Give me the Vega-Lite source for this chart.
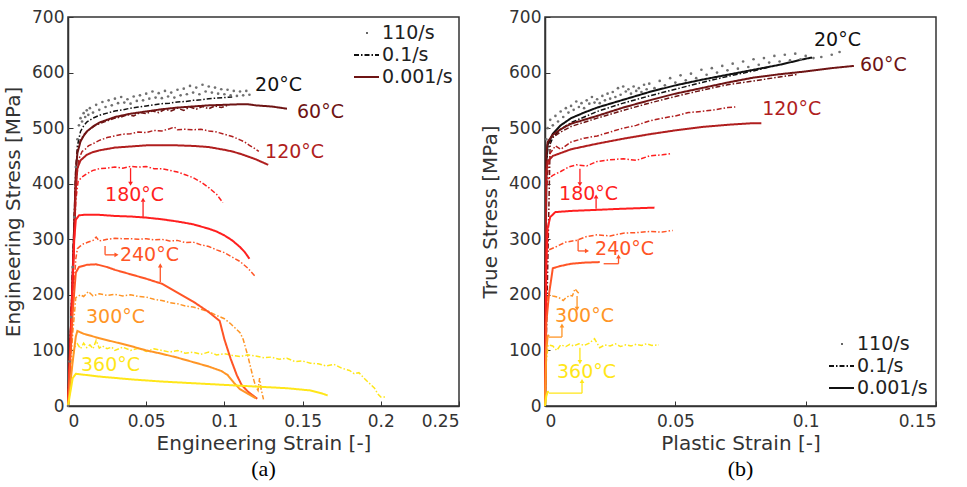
{
"$schema": "https://vega.github.io/schema/vega-lite/v6.json",
"background": "white",
"padding": {"left": 2, "top": 7, "right": 5, "bottom": 3},
"spacing": 18,
"config": {
  "font": "DejaVu Sans",
  "view": {"stroke": "#333", "strokeWidth": 1.5},
  "axis": {"labelFont": "DejaVu Sans", "labelFontSize": 17, "labelColor": "#333", "titleFont": "DejaVu Sans", "titleFontSize": 20, "titleFontWeight": "normal", "titleColor": "#333", "domainColor": "#333", "domainWidth": 1.5, "tickColor": "#333", "tickSize": -5, "labelPadding": 9, "grid": false},
  "text": {"font": "DejaVu Sans", "fontSize": 19, "align": "left", "baseline": "middle"}
},
"datasets": {
"curves": [
{"panel":"a","temp":"20°C","rate":"110/s","strain":0,"stress":0},{"panel":"a","temp":"20°C","rate":"110/s","strain":0.001,"stress":80},{"panel":"a","temp":"20°C","rate":"110/s","strain":0.002,"stress":160},{"panel":"a","temp":"20°C","rate":"110/s","strain":0.003,"stress":250},{"panel":"a","temp":"20°C","rate":"110/s","strain":0.004,"stress":340},{"panel":"a","temp":"20°C","rate":"110/s","strain":0.005,"stress":430},{"panel":"a","temp":"20°C","rate":"110/s","strain":0.006,"stress":480},{"panel":"a","temp":"20°C","rate":"110/s","strain":0.007,"stress":505},{"panel":"a","temp":"20°C","rate":"110/s","strain":0.008,"stress":518},{"panel":"a","temp":"20°C","rate":"110/s","strain":0.009,"stress":512},{"panel":"a","temp":"20°C","rate":"110/s","strain":0.010,"stress":527},{"panel":"a","temp":"20°C","rate":"110/s","strain":0.011,"stress":520},{"panel":"a","temp":"20°C","rate":"110/s","strain":0.012,"stress":532},{"panel":"a","temp":"20°C","rate":"110/s","strain":0.013,"stress":524},{"panel":"a","temp":"20°C","rate":"110/s","strain":0.014,"stress":536},{"panel":"a","temp":"20°C","rate":"110/s","strain":0.016,"stress":528},{"panel":"a","temp":"20°C","rate":"110/s","strain":0.018,"stress":542},{"panel":"a","temp":"20°C","rate":"110/s","strain":0.020,"stress":533},{"panel":"a","temp":"20°C","rate":"110/s","strain":0.022,"stress":547},{"panel":"a","temp":"20°C","rate":"110/s","strain":0.024,"stress":538},{"panel":"a","temp":"20°C","rate":"110/s","strain":0.026,"stress":550},{"panel":"a","temp":"20°C","rate":"110/s","strain":0.028,"stress":541},{"panel":"a","temp":"20°C","rate":"110/s","strain":0.030,"stress":553},{"panel":"a","temp":"20°C","rate":"110/s","strain":0.032,"stress":545},{"panel":"a","temp":"20°C","rate":"110/s","strain":0.034,"stress":556},{"panel":"a","temp":"20°C","rate":"110/s","strain":0.036,"stress":546},{"panel":"a","temp":"20°C","rate":"110/s","strain":0.038,"stress":552},{"panel":"a","temp":"20°C","rate":"110/s","strain":0.040,"stress":544},{"panel":"a","temp":"20°C","rate":"110/s","strain":0.042,"stress":557},{"panel":"a","temp":"20°C","rate":"110/s","strain":0.044,"stress":549},{"panel":"a","temp":"20°C","rate":"110/s","strain":0.046,"stress":559},{"panel":"a","temp":"20°C","rate":"110/s","strain":0.048,"stress":550},{"panel":"a","temp":"20°C","rate":"110/s","strain":0.050,"stress":562},{"panel":"a","temp":"20°C","rate":"110/s","strain":0.052,"stress":553},{"panel":"a","temp":"20°C","rate":"110/s","strain":0.054,"stress":566},{"panel":"a","temp":"20°C","rate":"110/s","strain":0.056,"stress":555},{"panel":"a","temp":"20°C","rate":"110/s","strain":0.058,"stress":563},{"panel":"a","temp":"20°C","rate":"110/s","strain":0.060,"stress":554},{"panel":"a","temp":"20°C","rate":"110/s","strain":0.062,"stress":567},{"panel":"a","temp":"20°C","rate":"110/s","strain":0.064,"stress":557},{"panel":"a","temp":"20°C","rate":"110/s","strain":0.066,"stress":564},{"panel":"a","temp":"20°C","rate":"110/s","strain":0.068,"stress":555},{"panel":"a","temp":"20°C","rate":"110/s","strain":0.070,"stress":569},{"panel":"a","temp":"20°C","rate":"110/s","strain":0.072,"stress":559},{"panel":"a","temp":"20°C","rate":"110/s","strain":0.074,"stress":571},{"panel":"a","temp":"20°C","rate":"110/s","strain":0.076,"stress":561},{"panel":"a","temp":"20°C","rate":"110/s","strain":0.078,"stress":576},{"panel":"a","temp":"20°C","rate":"110/s","strain":0.080,"stress":564},{"panel":"a","temp":"20°C","rate":"110/s","strain":0.082,"stress":573},{"panel":"a","temp":"20°C","rate":"110/s","strain":0.084,"stress":561},{"panel":"a","temp":"20°C","rate":"110/s","strain":0.086,"stress":578},{"panel":"a","temp":"20°C","rate":"110/s","strain":0.088,"stress":566},{"panel":"a","temp":"20°C","rate":"110/s","strain":0.090,"stress":575},{"panel":"a","temp":"20°C","rate":"110/s","strain":0.092,"stress":564},{"panel":"a","temp":"20°C","rate":"110/s","strain":0.094,"stress":573},{"panel":"a","temp":"20°C","rate":"110/s","strain":0.096,"stress":562},{"panel":"a","temp":"20°C","rate":"110/s","strain":0.098,"stress":570},{"panel":"a","temp":"20°C","rate":"110/s","strain":0.100,"stress":561},{"panel":"a","temp":"20°C","rate":"110/s","strain":0.102,"stress":569},{"panel":"a","temp":"20°C","rate":"110/s","strain":0.104,"stress":559},{"panel":"a","temp":"20°C","rate":"110/s","strain":0.106,"stress":567},{"panel":"a","temp":"20°C","rate":"110/s","strain":0.108,"stress":558},{"panel":"a","temp":"20°C","rate":"110/s","strain":0.110,"stress":566},{"panel":"a","temp":"20°C","rate":"110/s","strain":0.112,"stress":559},{"panel":"a","temp":"20°C","rate":"110/s","strain":0.114,"stress":567},{"panel":"a","temp":"20°C","rate":"110/s","strain":0.116,"stress":560},
{"panel":"a","temp":"20°C","rate":"0.1/s","strain":0,"stress":0},{"panel":"a","temp":"20°C","rate":"0.1/s","strain":0.002,"stress":160},{"panel":"a","temp":"20°C","rate":"0.1/s","strain":0.004,"stress":330},{"panel":"a","temp":"20°C","rate":"0.1/s","strain":0.005,"stress":420},{"panel":"a","temp":"20°C","rate":"0.1/s","strain":0.006,"stress":468},{"panel":"a","temp":"20°C","rate":"0.1/s","strain":0.008,"stress":494},{"panel":"a","temp":"20°C","rate":"0.1/s","strain":0.010,"stress":504},{"panel":"a","temp":"20°C","rate":"0.1/s","strain":0.012,"stress":511},{"panel":"a","temp":"20°C","rate":"0.1/s","strain":0.016,"stress":518},{"panel":"a","temp":"20°C","rate":"0.1/s","strain":0.020,"stress":523},{"panel":"a","temp":"20°C","rate":"0.1/s","strain":0.025,"stress":527},{"panel":"a","temp":"20°C","rate":"0.1/s","strain":0.030,"stress":531},{"panel":"a","temp":"20°C","rate":"0.1/s","strain":0.035,"stress":533},{"panel":"a","temp":"20°C","rate":"0.1/s","strain":0.040,"stress":536},{"panel":"a","temp":"20°C","rate":"0.1/s","strain":0.045,"stress":538},{"panel":"a","temp":"20°C","rate":"0.1/s","strain":0.050,"stress":540},{"panel":"a","temp":"20°C","rate":"0.1/s","strain":0.055,"stress":542},{"panel":"a","temp":"20°C","rate":"0.1/s","strain":0.060,"stress":544},{"panel":"a","temp":"20°C","rate":"0.1/s","strain":0.065,"stress":545},{"panel":"a","temp":"20°C","rate":"0.1/s","strain":0.070,"stress":547},{"panel":"a","temp":"20°C","rate":"0.1/s","strain":0.075,"stress":548},{"panel":"a","temp":"20°C","rate":"0.1/s","strain":0.080,"stress":550},{"panel":"a","temp":"20°C","rate":"0.1/s","strain":0.085,"stress":551},{"panel":"a","temp":"20°C","rate":"0.1/s","strain":0.090,"stress":553},{"panel":"a","temp":"20°C","rate":"0.1/s","strain":0.095,"stress":554},{"panel":"a","temp":"20°C","rate":"0.1/s","strain":0.100,"stress":555},{"panel":"a","temp":"20°C","rate":"0.1/s","strain":0.105,"stress":556},
{"panel":"a","temp":"60°C","rate":"0.001/s","strain":0,"stress":0},{"panel":"a","temp":"60°C","rate":"0.001/s","strain":0.002,"stress":150},{"panel":"a","temp":"60°C","rate":"0.001/s","strain":0.004,"stress":330},{"panel":"a","temp":"60°C","rate":"0.001/s","strain":0.005,"stress":420},{"panel":"a","temp":"60°C","rate":"0.001/s","strain":0.006,"stress":455},{"panel":"a","temp":"60°C","rate":"0.001/s","strain":0.008,"stress":476},{"panel":"a","temp":"60°C","rate":"0.001/s","strain":0.010,"stress":486},{"panel":"a","temp":"60°C","rate":"0.001/s","strain":0.012,"stress":494},{"panel":"a","temp":"60°C","rate":"0.001/s","strain":0.016,"stress":503},{"panel":"a","temp":"60°C","rate":"0.001/s","strain":0.020,"stress":510},{"panel":"a","temp":"60°C","rate":"0.001/s","strain":0.025,"stress":515},{"panel":"a","temp":"60°C","rate":"0.001/s","strain":0.030,"stress":520},{"panel":"a","temp":"60°C","rate":"0.001/s","strain":0.035,"stress":523},{"panel":"a","temp":"60°C","rate":"0.001/s","strain":0.040,"stress":526},{"panel":"a","temp":"60°C","rate":"0.001/s","strain":0.050,"stress":530},{"panel":"a","temp":"60°C","rate":"0.001/s","strain":0.060,"stress":534},{"panel":"a","temp":"60°C","rate":"0.001/s","strain":0.070,"stress":537},{"panel":"a","temp":"60°C","rate":"0.001/s","strain":0.080,"stress":539},{"panel":"a","temp":"60°C","rate":"0.001/s","strain":0.090,"stress":541},{"panel":"a","temp":"60°C","rate":"0.001/s","strain":0.100,"stress":542},{"panel":"a","temp":"60°C","rate":"0.001/s","strain":0.110,"stress":543},{"panel":"a","temp":"60°C","rate":"0.001/s","strain":0.115,"stress":543},{"panel":"a","temp":"60°C","rate":"0.001/s","strain":0.120,"stress":541},{"panel":"a","temp":"60°C","rate":"0.001/s","strain":0.125,"stress":540},{"panel":"a","temp":"60°C","rate":"0.001/s","strain":0.130,"stress":539},{"panel":"a","temp":"60°C","rate":"0.001/s","strain":0.135,"stress":537},{"panel":"a","temp":"60°C","rate":"0.001/s","strain":0.140,"stress":535},
{"panel":"a","temp":"60°C","rate":"0.1/s","strain":0,"stress":0},{"panel":"a","temp":"60°C","rate":"0.1/s","strain":0.002,"stress":160},{"panel":"a","temp":"60°C","rate":"0.1/s","strain":0.004,"stress":340},{"panel":"a","temp":"60°C","rate":"0.1/s","strain":0.005,"stress":430},{"panel":"a","temp":"60°C","rate":"0.1/s","strain":0.006,"stress":460},{"panel":"a","temp":"60°C","rate":"0.1/s","strain":0.008,"stress":478},{"panel":"a","temp":"60°C","rate":"0.1/s","strain":0.010,"stress":488},{"panel":"a","temp":"60°C","rate":"0.1/s","strain":0.014,"stress":498},{"panel":"a","temp":"60°C","rate":"0.1/s","strain":0.018,"stress":506},{"panel":"a","temp":"60°C","rate":"0.1/s","strain":0.022,"stress":510},{"panel":"a","temp":"60°C","rate":"0.1/s","strain":0.026,"stress":514},{"panel":"a","temp":"60°C","rate":"0.1/s","strain":0.030,"stress":518},{"panel":"a","temp":"60°C","rate":"0.1/s","strain":0.034,"stress":520},{"panel":"a","temp":"60°C","rate":"0.1/s","strain":0.038,"stress":524},{"panel":"a","temp":"60°C","rate":"0.1/s","strain":0.042,"stress":522},{"panel":"a","temp":"60°C","rate":"0.1/s","strain":0.046,"stress":528},{"panel":"a","temp":"60°C","rate":"0.1/s","strain":0.050,"stress":526},{"panel":"a","temp":"60°C","rate":"0.1/s","strain":0.054,"stress":531},{"panel":"a","temp":"60°C","rate":"0.1/s","strain":0.058,"stress":528},{"panel":"a","temp":"60°C","rate":"0.1/s","strain":0.062,"stress":534},{"panel":"a","temp":"60°C","rate":"0.1/s","strain":0.066,"stress":531},{"panel":"a","temp":"60°C","rate":"0.1/s","strain":0.070,"stress":536},{"panel":"a","temp":"60°C","rate":"0.1/s","strain":0.074,"stress":532},{"panel":"a","temp":"60°C","rate":"0.1/s","strain":0.078,"stress":538},{"panel":"a","temp":"60°C","rate":"0.1/s","strain":0.082,"stress":534},{"panel":"a","temp":"60°C","rate":"0.1/s","strain":0.086,"stress":539},{"panel":"a","temp":"60°C","rate":"0.1/s","strain":0.090,"stress":535},{"panel":"a","temp":"60°C","rate":"0.1/s","strain":0.094,"stress":540},{"panel":"a","temp":"60°C","rate":"0.1/s","strain":0.098,"stress":537},{"panel":"a","temp":"60°C","rate":"0.1/s","strain":0.102,"stress":541},
{"panel":"a","temp":"120°C","rate":"0.1/s","strain":0,"stress":0},{"panel":"a","temp":"120°C","rate":"0.1/s","strain":0.002,"stress":150},{"panel":"a","temp":"120°C","rate":"0.1/s","strain":0.004,"stress":320},{"panel":"a","temp":"120°C","rate":"0.1/s","strain":0.005,"stress":400},{"panel":"a","temp":"120°C","rate":"0.1/s","strain":0.007,"stress":445},{"panel":"a","temp":"120°C","rate":"0.1/s","strain":0.009,"stress":458},{"panel":"a","temp":"120°C","rate":"0.1/s","strain":0.011,"stress":462},{"panel":"a","temp":"120°C","rate":"0.1/s","strain":0.013,"stress":468},{"panel":"a","temp":"120°C","rate":"0.1/s","strain":0.016,"stress":472},{"panel":"a","temp":"120°C","rate":"0.1/s","strain":0.020,"stress":478},{"panel":"a","temp":"120°C","rate":"0.1/s","strain":0.025,"stress":483},{"panel":"a","temp":"120°C","rate":"0.1/s","strain":0.030,"stress":486},{"panel":"a","temp":"120°C","rate":"0.1/s","strain":0.035,"stress":489},{"panel":"a","temp":"120°C","rate":"0.1/s","strain":0.040,"stress":490},{"panel":"a","temp":"120°C","rate":"0.1/s","strain":0.045,"stress":493},{"panel":"a","temp":"120°C","rate":"0.1/s","strain":0.050,"stress":492},{"panel":"a","temp":"120°C","rate":"0.1/s","strain":0.055,"stress":496},{"panel":"a","temp":"120°C","rate":"0.1/s","strain":0.060,"stress":495},{"panel":"a","temp":"120°C","rate":"0.1/s","strain":0.065,"stress":499},{"panel":"a","temp":"120°C","rate":"0.1/s","strain":0.068,"stress":502},{"panel":"a","temp":"120°C","rate":"0.1/s","strain":0.070,"stress":497},{"panel":"a","temp":"120°C","rate":"0.1/s","strain":0.075,"stress":498},{"panel":"a","temp":"120°C","rate":"0.1/s","strain":0.080,"stress":497},{"panel":"a","temp":"120°C","rate":"0.1/s","strain":0.085,"stress":498},{"panel":"a","temp":"120°C","rate":"0.1/s","strain":0.090,"stress":495},{"panel":"a","temp":"120°C","rate":"0.1/s","strain":0.095,"stress":493},{"panel":"a","temp":"120°C","rate":"0.1/s","strain":0.100,"stress":489},{"panel":"a","temp":"120°C","rate":"0.1/s","strain":0.105,"stress":485},{"panel":"a","temp":"120°C","rate":"0.1/s","strain":0.110,"stress":479},{"panel":"a","temp":"120°C","rate":"0.1/s","strain":0.113,"stress":475},{"panel":"a","temp":"120°C","rate":"0.1/s","strain":0.116,"stress":469},{"panel":"a","temp":"120°C","rate":"0.1/s","strain":0.119,"stress":464},{"panel":"a","temp":"120°C","rate":"0.1/s","strain":0.122,"stress":458},
{"panel":"a","temp":"120°C","rate":"0.001/s","strain":0,"stress":0},{"panel":"a","temp":"120°C","rate":"0.001/s","strain":0.002,"stress":150},{"panel":"a","temp":"120°C","rate":"0.001/s","strain":0.004,"stress":310},{"panel":"a","temp":"120°C","rate":"0.001/s","strain":0.005,"stress":390},{"panel":"a","temp":"120°C","rate":"0.001/s","strain":0.006,"stress":428},{"panel":"a","temp":"120°C","rate":"0.001/s","strain":0.008,"stress":442},{"panel":"a","temp":"120°C","rate":"0.001/s","strain":0.012,"stress":452},{"panel":"a","temp":"120°C","rate":"0.001/s","strain":0.016,"stress":457},{"panel":"a","temp":"120°C","rate":"0.001/s","strain":0.020,"stress":460},{"panel":"a","temp":"120°C","rate":"0.001/s","strain":0.030,"stress":465},{"panel":"a","temp":"120°C","rate":"0.001/s","strain":0.040,"stress":467},{"panel":"a","temp":"120°C","rate":"0.001/s","strain":0.050,"stress":469},{"panel":"a","temp":"120°C","rate":"0.001/s","strain":0.060,"stress":469},{"panel":"a","temp":"120°C","rate":"0.001/s","strain":0.070,"stress":469},{"panel":"a","temp":"120°C","rate":"0.001/s","strain":0.080,"stress":468},{"panel":"a","temp":"120°C","rate":"0.001/s","strain":0.090,"stress":466},{"panel":"a","temp":"120°C","rate":"0.001/s","strain":0.100,"stress":461},{"panel":"a","temp":"120°C","rate":"0.001/s","strain":0.105,"stress":458},{"panel":"a","temp":"120°C","rate":"0.001/s","strain":0.110,"stress":454},{"panel":"a","temp":"120°C","rate":"0.001/s","strain":0.115,"stress":449},{"panel":"a","temp":"120°C","rate":"0.001/s","strain":0.120,"stress":444},{"panel":"a","temp":"120°C","rate":"0.001/s","strain":0.124,"stress":439},{"panel":"a","temp":"120°C","rate":"0.001/s","strain":0.128,"stress":434},
{"panel":"a","temp":"180°C","rate":"0.1/s","strain":0,"stress":0},{"panel":"a","temp":"180°C","rate":"0.1/s","strain":0.002,"stress":150},{"panel":"a","temp":"180°C","rate":"0.1/s","strain":0.004,"stress":300},{"panel":"a","temp":"180°C","rate":"0.1/s","strain":0.005,"stress":370},{"panel":"a","temp":"180°C","rate":"0.1/s","strain":0.0065,"stress":405},{"panel":"a","temp":"180°C","rate":"0.1/s","strain":0.009,"stress":412},{"panel":"a","temp":"180°C","rate":"0.1/s","strain":0.012,"stress":418},{"panel":"a","temp":"180°C","rate":"0.1/s","strain":0.016,"stress":424},{"panel":"a","temp":"180°C","rate":"0.1/s","strain":0.020,"stress":427},{"panel":"a","temp":"180°C","rate":"0.1/s","strain":0.025,"stress":428},{"panel":"a","temp":"180°C","rate":"0.1/s","strain":0.030,"stress":430},{"panel":"a","temp":"180°C","rate":"0.1/s","strain":0.035,"stress":428},{"panel":"a","temp":"180°C","rate":"0.1/s","strain":0.040,"stress":431},{"panel":"a","temp":"180°C","rate":"0.1/s","strain":0.045,"stress":430},{"panel":"a","temp":"180°C","rate":"0.1/s","strain":0.050,"stress":431},{"panel":"a","temp":"180°C","rate":"0.1/s","strain":0.055,"stress":427},{"panel":"a","temp":"180°C","rate":"0.1/s","strain":0.060,"stress":427},{"panel":"a","temp":"180°C","rate":"0.1/s","strain":0.065,"stress":424},{"panel":"a","temp":"180°C","rate":"0.1/s","strain":0.070,"stress":421},{"panel":"a","temp":"180°C","rate":"0.1/s","strain":0.075,"stress":416},{"panel":"a","temp":"180°C","rate":"0.1/s","strain":0.080,"stress":411},{"panel":"a","temp":"180°C","rate":"0.1/s","strain":0.085,"stress":403},{"panel":"a","temp":"180°C","rate":"0.1/s","strain":0.090,"stress":393},{"panel":"a","temp":"180°C","rate":"0.1/s","strain":0.095,"stress":381},{"panel":"a","temp":"180°C","rate":"0.1/s","strain":0.099,"stress":366},
{"panel":"a","temp":"180°C","rate":"0.001/s","strain":0,"stress":0},{"panel":"a","temp":"180°C","rate":"0.001/s","strain":0.002,"stress":150},{"panel":"a","temp":"180°C","rate":"0.001/s","strain":0.004,"stress":300},{"panel":"a","temp":"180°C","rate":"0.001/s","strain":0.005,"stress":335},{"panel":"a","temp":"180°C","rate":"0.001/s","strain":0.007,"stress":343},{"panel":"a","temp":"180°C","rate":"0.001/s","strain":0.010,"stress":344},{"panel":"a","temp":"180°C","rate":"0.001/s","strain":0.020,"stress":344},{"panel":"a","temp":"180°C","rate":"0.001/s","strain":0.030,"stress":342},{"panel":"a","temp":"180°C","rate":"0.001/s","strain":0.040,"stress":341},{"panel":"a","temp":"180°C","rate":"0.001/s","strain":0.050,"stress":339},{"panel":"a","temp":"180°C","rate":"0.001/s","strain":0.060,"stress":336},{"panel":"a","temp":"180°C","rate":"0.001/s","strain":0.070,"stress":332},{"panel":"a","temp":"180°C","rate":"0.001/s","strain":0.080,"stress":327},{"panel":"a","temp":"180°C","rate":"0.001/s","strain":0.090,"stress":319},{"panel":"a","temp":"180°C","rate":"0.001/s","strain":0.095,"stress":314},{"panel":"a","temp":"180°C","rate":"0.001/s","strain":0.100,"stress":307},{"panel":"a","temp":"180°C","rate":"0.001/s","strain":0.105,"stress":298},{"panel":"a","temp":"180°C","rate":"0.001/s","strain":0.110,"stress":286},{"panel":"a","temp":"180°C","rate":"0.001/s","strain":0.113,"stress":277},{"panel":"a","temp":"180°C","rate":"0.001/s","strain":0.116,"stress":265},
{"panel":"a","temp":"240°C","rate":"0.1/s","strain":0,"stress":0},{"panel":"a","temp":"240°C","rate":"0.1/s","strain":0.002,"stress":120},{"panel":"a","temp":"240°C","rate":"0.1/s","strain":0.004,"stress":220},{"panel":"a","temp":"240°C","rate":"0.1/s","strain":0.005,"stress":265},{"panel":"a","temp":"240°C","rate":"0.1/s","strain":0.006,"stress":283},{"panel":"a","temp":"240°C","rate":"0.1/s","strain":0.008,"stress":288},{"panel":"a","temp":"240°C","rate":"0.1/s","strain":0.010,"stress":292},{"panel":"a","temp":"240°C","rate":"0.1/s","strain":0.013,"stress":295},{"panel":"a","temp":"240°C","rate":"0.1/s","strain":0.016,"stress":298},{"panel":"a","temp":"240°C","rate":"0.1/s","strain":0.018,"stress":304},{"panel":"a","temp":"240°C","rate":"0.1/s","strain":0.020,"stress":297},{"panel":"a","temp":"240°C","rate":"0.1/s","strain":0.025,"stress":300},{"panel":"a","temp":"240°C","rate":"0.1/s","strain":0.030,"stress":302},{"panel":"a","temp":"240°C","rate":"0.1/s","strain":0.035,"stress":301},{"panel":"a","temp":"240°C","rate":"0.1/s","strain":0.040,"stress":301},{"panel":"a","temp":"240°C","rate":"0.1/s","strain":0.045,"stress":300},{"panel":"a","temp":"240°C","rate":"0.1/s","strain":0.050,"stress":301},{"panel":"a","temp":"240°C","rate":"0.1/s","strain":0.055,"stress":299},{"panel":"a","temp":"240°C","rate":"0.1/s","strain":0.060,"stress":300},{"panel":"a","temp":"240°C","rate":"0.1/s","strain":0.065,"stress":297},{"panel":"a","temp":"240°C","rate":"0.1/s","strain":0.070,"stress":298},{"panel":"a","temp":"240°C","rate":"0.1/s","strain":0.075,"stress":294},{"panel":"a","temp":"240°C","rate":"0.1/s","strain":0.080,"stress":295},{"panel":"a","temp":"240°C","rate":"0.1/s","strain":0.085,"stress":290},{"panel":"a","temp":"240°C","rate":"0.1/s","strain":0.090,"stress":287},{"panel":"a","temp":"240°C","rate":"0.1/s","strain":0.095,"stress":281},{"panel":"a","temp":"240°C","rate":"0.1/s","strain":0.100,"stress":276},{"panel":"a","temp":"240°C","rate":"0.1/s","strain":0.105,"stress":268},{"panel":"a","temp":"240°C","rate":"0.1/s","strain":0.110,"stress":260},{"panel":"a","temp":"240°C","rate":"0.1/s","strain":0.115,"stress":248},{"panel":"a","temp":"240°C","rate":"0.1/s","strain":0.120,"stress":232},
{"panel":"a","temp":"240°C","rate":"0.001/s","strain":0,"stress":0},{"panel":"a","temp":"240°C","rate":"0.001/s","strain":0.003,"stress":170},{"panel":"a","temp":"240°C","rate":"0.001/s","strain":0.005,"stress":240},{"panel":"a","temp":"240°C","rate":"0.001/s","strain":0.007,"stress":250},{"panel":"a","temp":"240°C","rate":"0.001/s","strain":0.012,"stress":254},{"panel":"a","temp":"240°C","rate":"0.001/s","strain":0.018,"stress":255},{"panel":"a","temp":"240°C","rate":"0.001/s","strain":0.025,"stress":250},{"panel":"a","temp":"240°C","rate":"0.001/s","strain":0.030,"stress":245},{"panel":"a","temp":"240°C","rate":"0.001/s","strain":0.040,"stress":237},{"panel":"a","temp":"240°C","rate":"0.001/s","strain":0.050,"stress":229},{"panel":"a","temp":"240°C","rate":"0.001/s","strain":0.060,"stress":220},{"panel":"a","temp":"240°C","rate":"0.001/s","strain":0.070,"stress":204},{"panel":"a","temp":"240°C","rate":"0.001/s","strain":0.080,"stress":188},{"panel":"a","temp":"240°C","rate":"0.001/s","strain":0.090,"stress":169},{"panel":"a","temp":"240°C","rate":"0.001/s","strain":0.097,"stress":153},{"panel":"a","temp":"240°C","rate":"0.001/s","strain":0.100,"stress":120},{"panel":"a","temp":"240°C","rate":"0.001/s","strain":0.104,"stress":85},{"panel":"a","temp":"240°C","rate":"0.001/s","strain":0.108,"stress":55},{"panel":"a","temp":"240°C","rate":"0.001/s","strain":0.111,"stress":38},{"panel":"a","temp":"240°C","rate":"0.001/s","strain":0.115,"stress":26},{"panel":"a","temp":"240°C","rate":"0.001/s","strain":0.121,"stress":13},
{"panel":"a","temp":"300°C","rate":"0.1/s","strain":0,"stress":0},{"panel":"a","temp":"300°C","rate":"0.1/s","strain":0.003,"stress":130},{"panel":"a","temp":"300°C","rate":"0.1/s","strain":0.005,"stress":195},{"panel":"a","temp":"300°C","rate":"0.1/s","strain":0.008,"stress":200},{"panel":"a","temp":"300°C","rate":"0.1/s","strain":0.010,"stress":197},{"panel":"a","temp":"300°C","rate":"0.1/s","strain":0.013,"stress":206},{"panel":"a","temp":"300°C","rate":"0.1/s","strain":0.016,"stress":198},{"panel":"a","temp":"300°C","rate":"0.1/s","strain":0.020,"stress":202},{"panel":"a","temp":"300°C","rate":"0.1/s","strain":0.025,"stress":199},{"panel":"a","temp":"300°C","rate":"0.1/s","strain":0.030,"stress":201},{"panel":"a","temp":"300°C","rate":"0.1/s","strain":0.035,"stress":198},{"panel":"a","temp":"300°C","rate":"0.1/s","strain":0.040,"stress":200},{"panel":"a","temp":"300°C","rate":"0.1/s","strain":0.045,"stress":197},{"panel":"a","temp":"300°C","rate":"0.1/s","strain":0.050,"stress":196},{"panel":"a","temp":"300°C","rate":"0.1/s","strain":0.055,"stress":192},{"panel":"a","temp":"300°C","rate":"0.1/s","strain":0.060,"stress":190},{"panel":"a","temp":"300°C","rate":"0.1/s","strain":0.065,"stress":186},{"panel":"a","temp":"300°C","rate":"0.1/s","strain":0.070,"stress":184},{"panel":"a","temp":"300°C","rate":"0.1/s","strain":0.075,"stress":180},{"panel":"a","temp":"300°C","rate":"0.1/s","strain":0.080,"stress":178},{"panel":"a","temp":"300°C","rate":"0.1/s","strain":0.085,"stress":174},{"panel":"a","temp":"300°C","rate":"0.1/s","strain":0.090,"stress":170},{"panel":"a","temp":"300°C","rate":"0.1/s","strain":0.095,"stress":163},{"panel":"a","temp":"300°C","rate":"0.1/s","strain":0.100,"stress":157},{"panel":"a","temp":"300°C","rate":"0.1/s","strain":0.104,"stress":148},{"panel":"a","temp":"300°C","rate":"0.1/s","strain":0.107,"stress":140},{"panel":"a","temp":"300°C","rate":"0.1/s","strain":0.110,"stress":132},{"panel":"a","temp":"300°C","rate":"0.1/s","strain":0.112,"stress":120},{"panel":"a","temp":"300°C","rate":"0.1/s","strain":0.115,"stress":90},{"panel":"a","temp":"300°C","rate":"0.1/s","strain":0.118,"stress":55},{"panel":"a","temp":"300°C","rate":"0.1/s","strain":0.120,"stress":35},{"panel":"a","temp":"300°C","rate":"0.1/s","strain":0.1215,"stress":28},{"panel":"a","temp":"300°C","rate":"0.1/s","strain":0.1225,"stress":50},{"panel":"a","temp":"300°C","rate":"0.1/s","strain":0.1235,"stress":30},{"panel":"a","temp":"300°C","rate":"0.1/s","strain":0.125,"stress":12},
{"panel":"a","temp":"300°C","rate":"0.001/s","strain":0,"stress":0},{"panel":"a","temp":"300°C","rate":"0.001/s","strain":0.003,"stress":80},{"panel":"a","temp":"300°C","rate":"0.001/s","strain":0.005,"stress":125},{"panel":"a","temp":"300°C","rate":"0.001/s","strain":0.006,"stress":135},{"panel":"a","temp":"300°C","rate":"0.001/s","strain":0.010,"stress":130},{"panel":"a","temp":"300°C","rate":"0.001/s","strain":0.020,"stress":122},{"panel":"a","temp":"300°C","rate":"0.001/s","strain":0.030,"stress":115},{"panel":"a","temp":"300°C","rate":"0.001/s","strain":0.040,"stress":108},{"panel":"a","temp":"300°C","rate":"0.001/s","strain":0.050,"stress":100},{"panel":"a","temp":"300°C","rate":"0.001/s","strain":0.060,"stress":94},{"panel":"a","temp":"300°C","rate":"0.001/s","strain":0.070,"stress":87},{"panel":"a","temp":"300°C","rate":"0.001/s","strain":0.080,"stress":79},{"panel":"a","temp":"300°C","rate":"0.001/s","strain":0.090,"stress":71},{"panel":"a","temp":"300°C","rate":"0.001/s","strain":0.098,"stress":63},{"panel":"a","temp":"300°C","rate":"0.001/s","strain":0.102,"stress":56},{"panel":"a","temp":"300°C","rate":"0.001/s","strain":0.106,"stress":42},{"panel":"a","temp":"300°C","rate":"0.001/s","strain":0.110,"stress":30},{"panel":"a","temp":"300°C","rate":"0.001/s","strain":0.115,"stress":22},{"panel":"a","temp":"300°C","rate":"0.001/s","strain":0.120,"stress":14},
{"panel":"a","temp":"360°C","rate":"0.1/s","strain":0,"stress":0},{"panel":"a","temp":"360°C","rate":"0.1/s","strain":0.002,"stress":60},{"panel":"a","temp":"360°C","rate":"0.1/s","strain":0.004,"stress":105},{"panel":"a","temp":"360°C","rate":"0.1/s","strain":0.006,"stress":112},{"panel":"a","temp":"360°C","rate":"0.1/s","strain":0.008,"stress":103},{"panel":"a","temp":"360°C","rate":"0.1/s","strain":0.010,"stress":113},{"panel":"a","temp":"360°C","rate":"0.1/s","strain":0.012,"stress":105},{"panel":"a","temp":"360°C","rate":"0.1/s","strain":0.014,"stress":110},{"panel":"a","temp":"360°C","rate":"0.1/s","strain":0.016,"stress":103},{"panel":"a","temp":"360°C","rate":"0.1/s","strain":0.018,"stress":118},{"panel":"a","temp":"360°C","rate":"0.1/s","strain":0.020,"stress":104},{"panel":"a","temp":"360°C","rate":"0.1/s","strain":0.022,"stress":108},{"panel":"a","temp":"360°C","rate":"0.1/s","strain":0.025,"stress":103},{"panel":"a","temp":"360°C","rate":"0.1/s","strain":0.028,"stress":106},{"panel":"a","temp":"360°C","rate":"0.1/s","strain":0.030,"stress":100},{"panel":"a","temp":"360°C","rate":"0.1/s","strain":0.035,"stress":106},{"panel":"a","temp":"360°C","rate":"0.1/s","strain":0.040,"stress":100},{"panel":"a","temp":"360°C","rate":"0.1/s","strain":0.045,"stress":104},{"panel":"a","temp":"360°C","rate":"0.1/s","strain":0.050,"stress":98},{"panel":"a","temp":"360°C","rate":"0.1/s","strain":0.055,"stress":103},{"panel":"a","temp":"360°C","rate":"0.1/s","strain":0.060,"stress":100},{"panel":"a","temp":"360°C","rate":"0.1/s","strain":0.065,"stress":97},{"panel":"a","temp":"360°C","rate":"0.1/s","strain":0.070,"stress":100},{"panel":"a","temp":"360°C","rate":"0.1/s","strain":0.075,"stress":95},{"panel":"a","temp":"360°C","rate":"0.1/s","strain":0.080,"stress":97},{"panel":"a","temp":"360°C","rate":"0.1/s","strain":0.085,"stress":93},{"panel":"a","temp":"360°C","rate":"0.1/s","strain":0.090,"stress":97},{"panel":"a","temp":"360°C","rate":"0.1/s","strain":0.095,"stress":92},{"panel":"a","temp":"360°C","rate":"0.1/s","strain":0.100,"stress":94},{"panel":"a","temp":"360°C","rate":"0.1/s","strain":0.105,"stress":91},{"panel":"a","temp":"360°C","rate":"0.1/s","strain":0.110,"stress":89},{"panel":"a","temp":"360°C","rate":"0.1/s","strain":0.115,"stress":92},{"panel":"a","temp":"360°C","rate":"0.1/s","strain":0.120,"stress":90},{"panel":"a","temp":"360°C","rate":"0.1/s","strain":0.125,"stress":87},{"panel":"a","temp":"360°C","rate":"0.1/s","strain":0.130,"stress":88},{"panel":"a","temp":"360°C","rate":"0.1/s","strain":0.135,"stress":84},{"panel":"a","temp":"360°C","rate":"0.1/s","strain":0.140,"stress":86},{"panel":"a","temp":"360°C","rate":"0.1/s","strain":0.145,"stress":80},{"panel":"a","temp":"360°C","rate":"0.1/s","strain":0.150,"stress":81},{"panel":"a","temp":"360°C","rate":"0.1/s","strain":0.155,"stress":77},{"panel":"a","temp":"360°C","rate":"0.1/s","strain":0.160,"stress":76},{"panel":"a","temp":"360°C","rate":"0.1/s","strain":0.165,"stress":72},{"panel":"a","temp":"360°C","rate":"0.1/s","strain":0.170,"stress":75},{"panel":"a","temp":"360°C","rate":"0.1/s","strain":0.175,"stress":68},{"panel":"a","temp":"360°C","rate":"0.1/s","strain":0.180,"stress":64},{"panel":"a","temp":"360°C","rate":"0.1/s","strain":0.183,"stress":58},{"panel":"a","temp":"360°C","rate":"0.1/s","strain":0.186,"stress":60},{"panel":"a","temp":"360°C","rate":"0.1/s","strain":0.190,"stress":48},{"panel":"a","temp":"360°C","rate":"0.1/s","strain":0.193,"stress":40},{"panel":"a","temp":"360°C","rate":"0.1/s","strain":0.196,"stress":32},{"panel":"a","temp":"360°C","rate":"0.1/s","strain":0.198,"stress":22},{"panel":"a","temp":"360°C","rate":"0.1/s","strain":0.200,"stress":16},{"panel":"a","temp":"360°C","rate":"0.1/s","strain":0.203,"stress":16},
{"panel":"a","temp":"360°C","rate":"0.001/s","strain":0,"stress":0},{"panel":"a","temp":"360°C","rate":"0.001/s","strain":0.003,"stress":50},{"panel":"a","temp":"360°C","rate":"0.001/s","strain":0.005,"stress":58},{"panel":"a","temp":"360°C","rate":"0.001/s","strain":0.020,"stress":53},{"panel":"a","temp":"360°C","rate":"0.001/s","strain":0.040,"stress":48},{"panel":"a","temp":"360°C","rate":"0.001/s","strain":0.060,"stress":44},{"panel":"a","temp":"360°C","rate":"0.001/s","strain":0.080,"stress":41},{"panel":"a","temp":"360°C","rate":"0.001/s","strain":0.100,"stress":38},{"panel":"a","temp":"360°C","rate":"0.001/s","strain":0.120,"stress":35},{"panel":"a","temp":"360°C","rate":"0.001/s","strain":0.140,"stress":32},{"panel":"a","temp":"360°C","rate":"0.001/s","strain":0.155,"stress":28},{"panel":"a","temp":"360°C","rate":"0.001/s","strain":0.162,"stress":23},{"panel":"a","temp":"360°C","rate":"0.001/s","strain":0.166,"stress":19},
{"panel":"b","temp":"20°C","rate":"110/s","strain":0.0005,"stress":480},{"panel":"b","temp":"20°C","rate":"110/s","strain":0.001,"stress":500},{"panel":"b","temp":"20°C","rate":"110/s","strain":0.002,"stress":515},{"panel":"b","temp":"20°C","rate":"110/s","strain":0.003,"stress":505},{"panel":"b","temp":"20°C","rate":"110/s","strain":0.004,"stress":522},{"panel":"b","temp":"20°C","rate":"110/s","strain":0.005,"stress":512},{"panel":"b","temp":"20°C","rate":"110/s","strain":0.006,"stress":530},{"panel":"b","temp":"20°C","rate":"110/s","strain":0.007,"stress":520},{"panel":"b","temp":"20°C","rate":"110/s","strain":0.008,"stress":536},{"panel":"b","temp":"20°C","rate":"110/s","strain":0.009,"stress":528},{"panel":"b","temp":"20°C","rate":"110/s","strain":0.010,"stress":540},{"panel":"b","temp":"20°C","rate":"110/s","strain":0.011,"stress":533},{"panel":"b","temp":"20°C","rate":"110/s","strain":0.012,"stress":548},{"panel":"b","temp":"20°C","rate":"110/s","strain":0.013,"stress":538},{"panel":"b","temp":"20°C","rate":"110/s","strain":0.014,"stress":545},{"panel":"b","temp":"20°C","rate":"110/s","strain":0.015,"stress":536},{"panel":"b","temp":"20°C","rate":"110/s","strain":0.016,"stress":550},{"panel":"b","temp":"20°C","rate":"110/s","strain":0.017,"stress":544},{"panel":"b","temp":"20°C","rate":"110/s","strain":0.018,"stress":556},{"panel":"b","temp":"20°C","rate":"110/s","strain":0.019,"stress":546},{"panel":"b","temp":"20°C","rate":"110/s","strain":0.020,"stress":552},{"panel":"b","temp":"20°C","rate":"110/s","strain":0.021,"stress":545},{"panel":"b","temp":"20°C","rate":"110/s","strain":0.022,"stress":558},{"panel":"b","temp":"20°C","rate":"110/s","strain":0.023,"stress":550},{"panel":"b","temp":"20°C","rate":"110/s","strain":0.024,"stress":562},{"panel":"b","temp":"20°C","rate":"110/s","strain":0.025,"stress":553},{"panel":"b","temp":"20°C","rate":"110/s","strain":0.026,"stress":565},{"panel":"b","temp":"20°C","rate":"110/s","strain":0.027,"stress":556},{"panel":"b","temp":"20°C","rate":"110/s","strain":0.028,"stress":572},{"panel":"b","temp":"20°C","rate":"110/s","strain":0.029,"stress":560},{"panel":"b","temp":"20°C","rate":"110/s","strain":0.030,"stress":575},{"panel":"b","temp":"20°C","rate":"110/s","strain":0.031,"stress":566},{"panel":"b","temp":"20°C","rate":"110/s","strain":0.032,"stress":570},{"panel":"b","temp":"20°C","rate":"110/s","strain":0.033,"stress":562},{"panel":"b","temp":"20°C","rate":"110/s","strain":0.034,"stress":575},{"panel":"b","temp":"20°C","rate":"110/s","strain":0.035,"stress":567},{"panel":"b","temp":"20°C","rate":"110/s","strain":0.036,"stress":572},{"panel":"b","temp":"20°C","rate":"110/s","strain":0.037,"stress":565},{"panel":"b","temp":"20°C","rate":"110/s","strain":0.038,"stress":578},{"panel":"b","temp":"20°C","rate":"110/s","strain":0.039,"stress":570},{"panel":"b","temp":"20°C","rate":"110/s","strain":0.040,"stress":580},{"panel":"b","temp":"20°C","rate":"110/s","strain":0.042,"stress":572},{"panel":"b","temp":"20°C","rate":"110/s","strain":0.044,"stress":585},{"panel":"b","temp":"20°C","rate":"110/s","strain":0.046,"stress":577},{"panel":"b","temp":"20°C","rate":"110/s","strain":0.048,"stress":590},{"panel":"b","temp":"20°C","rate":"110/s","strain":0.050,"stress":582},{"panel":"b","temp":"20°C","rate":"110/s","strain":0.052,"stress":595},{"panel":"b","temp":"20°C","rate":"110/s","strain":0.054,"stress":586},{"panel":"b","temp":"20°C","rate":"110/s","strain":0.056,"stress":598},{"panel":"b","temp":"20°C","rate":"110/s","strain":0.058,"stress":590},{"panel":"b","temp":"20°C","rate":"110/s","strain":0.060,"stress":605},{"panel":"b","temp":"20°C","rate":"110/s","strain":0.062,"stress":596},{"panel":"b","temp":"20°C","rate":"110/s","strain":0.064,"stress":608},{"panel":"b","temp":"20°C","rate":"110/s","strain":0.066,"stress":600},{"panel":"b","temp":"20°C","rate":"110/s","strain":0.068,"stress":612},{"panel":"b","temp":"20°C","rate":"110/s","strain":0.070,"stress":604},{"panel":"b","temp":"20°C","rate":"110/s","strain":0.072,"stress":616},{"panel":"b","temp":"20°C","rate":"110/s","strain":0.074,"stress":607},{"panel":"b","temp":"20°C","rate":"110/s","strain":0.076,"stress":620},{"panel":"b","temp":"20°C","rate":"110/s","strain":0.078,"stress":610},{"panel":"b","temp":"20°C","rate":"110/s","strain":0.080,"stress":624},{"panel":"b","temp":"20°C","rate":"110/s","strain":0.082,"stress":614},{"panel":"b","temp":"20°C","rate":"110/s","strain":0.084,"stress":626},{"panel":"b","temp":"20°C","rate":"110/s","strain":0.086,"stress":618},{"panel":"b","temp":"20°C","rate":"110/s","strain":0.088,"stress":630},{"panel":"b","temp":"20°C","rate":"110/s","strain":0.090,"stress":620},{"panel":"b","temp":"20°C","rate":"110/s","strain":0.092,"stress":632},{"panel":"b","temp":"20°C","rate":"110/s","strain":0.094,"stress":622},{"panel":"b","temp":"20°C","rate":"110/s","strain":0.096,"stress":634},{"panel":"b","temp":"20°C","rate":"110/s","strain":0.098,"stress":624},{"panel":"b","temp":"20°C","rate":"110/s","strain":0.100,"stress":630},{"panel":"b","temp":"20°C","rate":"110/s","strain":0.103,"stress":626},{"panel":"b","temp":"20°C","rate":"110/s","strain":0.106,"stress":628},{"panel":"b","temp":"20°C","rate":"110/s","strain":0.110,"stress":632},{"panel":"b","temp":"20°C","rate":"110/s","strain":0.113,"stress":637},
{"panel":"b","temp":"20°C","rate":"0.001/s","strain":0,"stress":0},{"panel":"b","temp":"20°C","rate":"0.001/s","strain":0.0005,"stress":440},{"panel":"b","temp":"20°C","rate":"0.001/s","strain":0.001,"stress":470},{"panel":"b","temp":"20°C","rate":"0.001/s","strain":0.003,"stress":490},{"panel":"b","temp":"20°C","rate":"0.001/s","strain":0.006,"stress":505},{"panel":"b","temp":"20°C","rate":"0.001/s","strain":0.010,"stress":518},{"panel":"b","temp":"20°C","rate":"0.001/s","strain":0.015,"stress":528},{"panel":"b","temp":"20°C","rate":"0.001/s","strain":0.020,"stress":537},{"panel":"b","temp":"20°C","rate":"0.001/s","strain":0.025,"stress":544},{"panel":"b","temp":"20°C","rate":"0.001/s","strain":0.030,"stress":551},{"panel":"b","temp":"20°C","rate":"0.001/s","strain":0.040,"stress":565},{"panel":"b","temp":"20°C","rate":"0.001/s","strain":0.050,"stress":577},{"panel":"b","temp":"20°C","rate":"0.001/s","strain":0.060,"stress":587},{"panel":"b","temp":"20°C","rate":"0.001/s","strain":0.070,"stress":596},{"panel":"b","temp":"20°C","rate":"0.001/s","strain":0.080,"stress":605},{"panel":"b","temp":"20°C","rate":"0.001/s","strain":0.090,"stress":614},{"panel":"b","temp":"20°C","rate":"0.001/s","strain":0.100,"stress":625},{"panel":"b","temp":"20°C","rate":"0.001/s","strain":0.1025,"stress":627},
{"panel":"b","temp":"20°C","rate":"0.1/s","strain":0,"stress":0},{"panel":"b","temp":"20°C","rate":"0.1/s","strain":0.0005,"stress":430},{"panel":"b","temp":"20°C","rate":"0.1/s","strain":0.001,"stress":460},{"panel":"b","temp":"20°C","rate":"0.1/s","strain":0.003,"stress":483},{"panel":"b","temp":"20°C","rate":"0.1/s","strain":0.006,"stress":498},{"panel":"b","temp":"20°C","rate":"0.1/s","strain":0.010,"stress":510},{"panel":"b","temp":"20°C","rate":"0.1/s","strain":0.020,"stress":530},{"panel":"b","temp":"20°C","rate":"0.1/s","strain":0.030,"stress":545},{"panel":"b","temp":"20°C","rate":"0.1/s","strain":0.040,"stress":558},{"panel":"b","temp":"20°C","rate":"0.1/s","strain":0.050,"stress":570},{"panel":"b","temp":"20°C","rate":"0.1/s","strain":0.060,"stress":582},{"panel":"b","temp":"20°C","rate":"0.1/s","strain":0.070,"stress":593},{"panel":"b","temp":"20°C","rate":"0.1/s","strain":0.080,"stress":603},{"panel":"b","temp":"20°C","rate":"0.1/s","strain":0.086,"stress":610},
{"panel":"b","temp":"60°C","rate":"0.001/s","strain":0,"stress":0},{"panel":"b","temp":"60°C","rate":"0.001/s","strain":0.0005,"stress":450},{"panel":"b","temp":"60°C","rate":"0.001/s","strain":0.001,"stress":475},{"panel":"b","temp":"60°C","rate":"0.001/s","strain":0.003,"stress":488},{"panel":"b","temp":"60°C","rate":"0.001/s","strain":0.006,"stress":498},{"panel":"b","temp":"60°C","rate":"0.001/s","strain":0.010,"stress":508},{"panel":"b","temp":"60°C","rate":"0.001/s","strain":0.020,"stress":522},{"panel":"b","temp":"60°C","rate":"0.001/s","strain":0.030,"stress":537},{"panel":"b","temp":"60°C","rate":"0.001/s","strain":0.040,"stress":550},{"panel":"b","temp":"60°C","rate":"0.001/s","strain":0.050,"stress":562},{"panel":"b","temp":"60°C","rate":"0.001/s","strain":0.060,"stress":572},{"panel":"b","temp":"60°C","rate":"0.001/s","strain":0.070,"stress":582},{"panel":"b","temp":"60°C","rate":"0.001/s","strain":0.080,"stress":591},{"panel":"b","temp":"60°C","rate":"0.001/s","strain":0.090,"stress":597},{"panel":"b","temp":"60°C","rate":"0.001/s","strain":0.100,"stress":602},{"panel":"b","temp":"60°C","rate":"0.001/s","strain":0.110,"stress":608},{"panel":"b","temp":"60°C","rate":"0.001/s","strain":0.1185,"stress":612},
{"panel":"b","temp":"60°C","rate":"0.1/s","strain":0,"stress":0},{"panel":"b","temp":"60°C","rate":"0.1/s","strain":0.002,"stress":480},{"panel":"b","temp":"60°C","rate":"0.1/s","strain":0.006,"stress":493},{"panel":"b","temp":"60°C","rate":"0.1/s","strain":0.010,"stress":503},{"panel":"b","temp":"60°C","rate":"0.1/s","strain":0.020,"stress":518},{"panel":"b","temp":"60°C","rate":"0.1/s","strain":0.030,"stress":532},{"panel":"b","temp":"60°C","rate":"0.1/s","strain":0.040,"stress":545},{"panel":"b","temp":"60°C","rate":"0.1/s","strain":0.050,"stress":557},{"panel":"b","temp":"60°C","rate":"0.1/s","strain":0.060,"stress":568},{"panel":"b","temp":"60°C","rate":"0.1/s","strain":0.070,"stress":578},{"panel":"b","temp":"60°C","rate":"0.1/s","strain":0.080,"stress":585},{"panel":"b","temp":"60°C","rate":"0.1/s","strain":0.090,"stress":592},{"panel":"b","temp":"60°C","rate":"0.1/s","strain":0.097,"stress":597},
{"panel":"b","temp":"120°C","rate":"0.1/s","strain":0,"stress":0},{"panel":"b","temp":"120°C","rate":"0.1/s","strain":0.0005,"stress":400},{"panel":"b","temp":"120°C","rate":"0.1/s","strain":0.002,"stress":455},{"panel":"b","temp":"120°C","rate":"0.1/s","strain":0.004,"stress":468},{"panel":"b","temp":"120°C","rate":"0.1/s","strain":0.006,"stress":462},{"panel":"b","temp":"120°C","rate":"0.1/s","strain":0.010,"stress":475},{"panel":"b","temp":"120°C","rate":"0.1/s","strain":0.015,"stress":482},{"panel":"b","temp":"120°C","rate":"0.1/s","strain":0.020,"stress":486},{"panel":"b","temp":"120°C","rate":"0.1/s","strain":0.025,"stress":493},{"panel":"b","temp":"120°C","rate":"0.1/s","strain":0.030,"stress":500},{"panel":"b","temp":"120°C","rate":"0.1/s","strain":0.035,"stress":505},{"panel":"b","temp":"120°C","rate":"0.1/s","strain":0.040,"stress":513},{"panel":"b","temp":"120°C","rate":"0.1/s","strain":0.045,"stress":518},{"panel":"b","temp":"120°C","rate":"0.1/s","strain":0.050,"stress":522},{"panel":"b","temp":"120°C","rate":"0.1/s","strain":0.055,"stress":528},{"panel":"b","temp":"120°C","rate":"0.1/s","strain":0.060,"stress":530},{"panel":"b","temp":"120°C","rate":"0.1/s","strain":0.065,"stress":533},{"panel":"b","temp":"120°C","rate":"0.1/s","strain":0.070,"stress":537},{"panel":"b","temp":"120°C","rate":"0.1/s","strain":0.073,"stress":538},
{"panel":"b","temp":"120°C","rate":"0.001/s","strain":0,"stress":0},{"panel":"b","temp":"120°C","rate":"0.001/s","strain":0.0005,"stress":420},{"panel":"b","temp":"120°C","rate":"0.001/s","strain":0.001,"stress":440},{"panel":"b","temp":"120°C","rate":"0.001/s","strain":0.003,"stress":450},{"panel":"b","temp":"120°C","rate":"0.001/s","strain":0.010,"stress":462},{"panel":"b","temp":"120°C","rate":"0.001/s","strain":0.020,"stress":472},{"panel":"b","temp":"120°C","rate":"0.001/s","strain":0.030,"stress":481},{"panel":"b","temp":"120°C","rate":"0.001/s","strain":0.040,"stress":489},{"panel":"b","temp":"120°C","rate":"0.001/s","strain":0.050,"stress":496},{"panel":"b","temp":"120°C","rate":"0.001/s","strain":0.060,"stress":502},{"panel":"b","temp":"120°C","rate":"0.001/s","strain":0.070,"stress":506},{"panel":"b","temp":"120°C","rate":"0.001/s","strain":0.080,"stress":509},{"panel":"b","temp":"120°C","rate":"0.001/s","strain":0.083,"stress":509},
{"panel":"b","temp":"180°C","rate":"0.1/s","strain":0,"stress":0},{"panel":"b","temp":"180°C","rate":"0.1/s","strain":0.0005,"stress":390},{"panel":"b","temp":"180°C","rate":"0.1/s","strain":0.001,"stress":408},{"panel":"b","temp":"180°C","rate":"0.1/s","strain":0.003,"stress":415},{"panel":"b","temp":"180°C","rate":"0.1/s","strain":0.006,"stress":422},{"panel":"b","temp":"180°C","rate":"0.1/s","strain":0.009,"stress":430},{"panel":"b","temp":"180°C","rate":"0.1/s","strain":0.012,"stress":434},{"panel":"b","temp":"180°C","rate":"0.1/s","strain":0.016,"stress":432},{"panel":"b","temp":"180°C","rate":"0.1/s","strain":0.020,"stress":440},{"panel":"b","temp":"180°C","rate":"0.1/s","strain":0.025,"stress":443},{"panel":"b","temp":"180°C","rate":"0.1/s","strain":0.030,"stress":445},{"panel":"b","temp":"180°C","rate":"0.1/s","strain":0.035,"stress":442},{"panel":"b","temp":"180°C","rate":"0.1/s","strain":0.040,"stress":450},{"panel":"b","temp":"180°C","rate":"0.1/s","strain":0.045,"stress":452},{"panel":"b","temp":"180°C","rate":"0.1/s","strain":0.048,"stress":454},
{"panel":"b","temp":"180°C","rate":"0.001/s","strain":0,"stress":0},{"panel":"b","temp":"180°C","rate":"0.001/s","strain":0.0005,"stress":250},{"panel":"b","temp":"180°C","rate":"0.001/s","strain":0.001,"stress":320},{"panel":"b","temp":"180°C","rate":"0.001/s","strain":0.002,"stress":340},{"panel":"b","temp":"180°C","rate":"0.001/s","strain":0.004,"stress":349},{"panel":"b","temp":"180°C","rate":"0.001/s","strain":0.010,"stress":351},{"panel":"b","temp":"180°C","rate":"0.001/s","strain":0.020,"stress":353},{"panel":"b","temp":"180°C","rate":"0.001/s","strain":0.030,"stress":355},{"panel":"b","temp":"180°C","rate":"0.001/s","strain":0.042,"stress":357},
{"panel":"b","temp":"240°C","rate":"0.1/s","strain":0,"stress":0},{"panel":"b","temp":"240°C","rate":"0.1/s","strain":0.0005,"stress":270},{"panel":"b","temp":"240°C","rate":"0.1/s","strain":0.001,"stress":280},{"panel":"b","temp":"240°C","rate":"0.1/s","strain":0.004,"stress":286},{"panel":"b","temp":"240°C","rate":"0.1/s","strain":0.008,"stress":295},{"panel":"b","temp":"240°C","rate":"0.1/s","strain":0.012,"stress":298},{"panel":"b","temp":"240°C","rate":"0.1/s","strain":0.016,"stress":305},{"panel":"b","temp":"240°C","rate":"0.1/s","strain":0.020,"stress":308},{"panel":"b","temp":"240°C","rate":"0.1/s","strain":0.025,"stress":306},{"panel":"b","temp":"240°C","rate":"0.1/s","strain":0.030,"stress":311},{"panel":"b","temp":"240°C","rate":"0.1/s","strain":0.035,"stress":312},{"panel":"b","temp":"240°C","rate":"0.1/s","strain":0.040,"stress":314},{"panel":"b","temp":"240°C","rate":"0.1/s","strain":0.045,"stress":313},{"panel":"b","temp":"240°C","rate":"0.1/s","strain":0.049,"stress":316},
{"panel":"b","temp":"240°C","rate":"0.001/s","strain":0,"stress":0},{"panel":"b","temp":"240°C","rate":"0.001/s","strain":0.0005,"stress":150},{"panel":"b","temp":"240°C","rate":"0.001/s","strain":0.0015,"stress":200},{"panel":"b","temp":"240°C","rate":"0.001/s","strain":0.003,"stress":248},{"panel":"b","temp":"240°C","rate":"0.001/s","strain":0.006,"stress":252},{"panel":"b","temp":"240°C","rate":"0.001/s","strain":0.010,"stress":256},{"panel":"b","temp":"240°C","rate":"0.001/s","strain":0.015,"stress":258},{"panel":"b","temp":"240°C","rate":"0.001/s","strain":0.021,"stress":259},
{"panel":"b","temp":"300°C","rate":"0.1/s","strain":0,"stress":0},{"panel":"b","temp":"300°C","rate":"0.1/s","strain":0.0005,"stress":150},{"panel":"b","temp":"300°C","rate":"0.1/s","strain":0.0012,"stress":200},{"panel":"b","temp":"300°C","rate":"0.1/s","strain":0.003,"stress":198},{"panel":"b","temp":"300°C","rate":"0.1/s","strain":0.005,"stress":196},{"panel":"b","temp":"300°C","rate":"0.1/s","strain":0.007,"stress":190},{"panel":"b","temp":"300°C","rate":"0.1/s","strain":0.008,"stress":195},{"panel":"b","temp":"300°C","rate":"0.1/s","strain":0.0095,"stress":199},{"panel":"b","temp":"300°C","rate":"0.1/s","strain":0.0105,"stress":198},{"panel":"b","temp":"300°C","rate":"0.1/s","strain":0.0115,"stress":211},{"panel":"b","temp":"300°C","rate":"0.1/s","strain":0.0125,"stress":205},{"panel":"b","temp":"300°C","rate":"0.1/s","strain":0.0134,"stress":201},
{"panel":"b","temp":"300°C","rate":"0.001/s","strain":0,"stress":0},{"panel":"b","temp":"300°C","rate":"0.001/s","strain":0.0005,"stress":100},{"panel":"b","temp":"300°C","rate":"0.001/s","strain":0.001,"stress":125},{"panel":"b","temp":"300°C","rate":"0.001/s","strain":0.0015,"stress":128},
{"panel":"b","temp":"360°C","rate":"0.1/s","strain":0,"stress":0},{"panel":"b","temp":"360°C","rate":"0.1/s","strain":0.0005,"stress":80},{"panel":"b","temp":"360°C","rate":"0.1/s","strain":0.0012,"stress":110},{"panel":"b","temp":"360°C","rate":"0.1/s","strain":0.003,"stress":108},{"panel":"b","temp":"360°C","rate":"0.1/s","strain":0.0045,"stress":100},{"panel":"b","temp":"360°C","rate":"0.1/s","strain":0.006,"stress":110},{"panel":"b","temp":"360°C","rate":"0.1/s","strain":0.008,"stress":107},{"panel":"b","temp":"360°C","rate":"0.1/s","strain":0.0095,"stress":111},{"panel":"b","temp":"360°C","rate":"0.1/s","strain":0.011,"stress":108},{"panel":"b","temp":"360°C","rate":"0.1/s","strain":0.013,"stress":112},{"panel":"b","temp":"360°C","rate":"0.1/s","strain":0.015,"stress":109},{"panel":"b","temp":"360°C","rate":"0.1/s","strain":0.017,"stress":113},{"panel":"b","temp":"360°C","rate":"0.1/s","strain":0.019,"stress":121},{"panel":"b","temp":"360°C","rate":"0.1/s","strain":0.021,"stress":105},{"panel":"b","temp":"360°C","rate":"0.1/s","strain":0.023,"stress":110},{"panel":"b","temp":"360°C","rate":"0.1/s","strain":0.025,"stress":108},{"panel":"b","temp":"360°C","rate":"0.1/s","strain":0.027,"stress":112},{"panel":"b","temp":"360°C","rate":"0.1/s","strain":0.029,"stress":107},{"panel":"b","temp":"360°C","rate":"0.1/s","strain":0.031,"stress":110},{"panel":"b","temp":"360°C","rate":"0.1/s","strain":0.033,"stress":108},{"panel":"b","temp":"360°C","rate":"0.1/s","strain":0.035,"stress":111},{"panel":"b","temp":"360°C","rate":"0.1/s","strain":0.037,"stress":109},{"panel":"b","temp":"360°C","rate":"0.1/s","strain":0.039,"stress":112},{"panel":"b","temp":"360°C","rate":"0.1/s","strain":0.041,"stress":109},{"panel":"b","temp":"360°C","rate":"0.1/s","strain":0.0437,"stress":110},
{"panel":"b","temp":"360°C","rate":"0.001/s","strain":0,"stress":0},{"panel":"b","temp":"360°C","rate":"0.001/s","strain":0.0005,"stress":18},{"panel":"b","temp":"360°C","rate":"0.001/s","strain":0.001,"stress":25},{"panel":"b","temp":"360°C","rate":"0.001/s","strain":0.0015,"stress":26}
],
"labels": [
{"panel":"a","temp":"20°C","strain":0.1196,"stress":578},{"panel":"a","temp":"60°C","strain":0.1464,"stress":529},{"panel":"a","temp":"120°C","strain":0.126,"stress":457},{"panel":"a","temp":"180°C","strain":0.0237,"stress":380},{"panel":"a","temp":"240°C","strain":0.0332,"stress":272},{"panel":"a","temp":"300°C","strain":0.0115,"stress":160},{"panel":"a","temp":"360°C","strain":0.0083,"stress":74},
{"panel":"b","temp":"20°C","strain":0.1032,"stress":658},{"panel":"b","temp":"60°C","strain":0.1208,"stress":614},{"panel":"b","temp":"120°C","strain":0.0833,"stress":534},{"panel":"b","temp":"180°C","strain":0.0054,"stress":381},{"panel":"b","temp":"240°C","strain":0.0192,"stress":283},{"panel":"b","temp":"300°C","strain":0.0038,"stress":162},{"panel":"b","temp":"360°C","strain":0.0046,"stress":61}
],
"arrows": [
{"panel":"a","temp":"180°C","strain":0.040,"stress":428,"strain2":0.040,"stress2":403},{"panel":"a","temp":"180°C","strain":0.048,"stress":340,"strain2":0.048,"stress2":368},{"panel":"a","temp":"240°C","strain":0.0237,"stress":288,"strain2":0.0237,"stress2":272},{"panel":"a","temp":"240°C","strain":0.0237,"stress":272,"strain2":0.030,"stress2":272},{"panel":"a","temp":"240°C","strain":0.059,"stress":223,"strain2":0.059,"stress2":250},
{"panel":"b","temp":"180°C","strain":0.0134,"stress":427,"strain2":0.0134,"stress2":402},{"panel":"b","temp":"180°C","strain":0.0196,"stress":355,"strain2":0.0196,"stress2":374},{"panel":"b","temp":"240°C","strain":0.0127,"stress":300,"strain2":0.0127,"stress2":279},{"panel":"b","temp":"240°C","strain":0.0127,"stress":279,"strain2":0.0155,"stress2":279},{"panel":"b","temp":"240°C","strain":0.0225,"stress":256,"strain2":0.0282,"stress2":256},{"panel":"b","temp":"240°C","strain":0.0282,"stress":256,"strain2":0.0282,"stress2":266},{"panel":"b","temp":"300°C","strain":0.0123,"stress":198,"strain2":0.0123,"stress2":178},{"panel":"b","temp":"300°C","strain":0.0015,"stress":124,"strain2":0.0065,"stress2":124},{"panel":"b","temp":"300°C","strain":0.0065,"stress":124,"strain2":0.0065,"stress2":142},{"panel":"b","temp":"360°C","strain":0.0134,"stress":105,"strain2":0.0134,"stress2":82},{"panel":"b","temp":"360°C","strain":0.0015,"stress":23,"strain2":0.0142,"stress2":23},{"panel":"b","temp":"360°C","strain":0.0142,"stress":23,"strain2":0.0142,"stress2":42}
],
"heads": [
{"panel":"a","temp":"180°C","strain":0.040,"stress":400,"dir":"down"},{"panel":"a","temp":"180°C","strain":0.048,"stress":371,"dir":"up"},{"panel":"a","temp":"240°C","strain":0.031,"stress":272,"dir":"right"},{"panel":"a","temp":"240°C","strain":0.059,"stress":253,"dir":"up"},
{"panel":"b","temp":"180°C","strain":0.0134,"stress":399,"dir":"down"},{"panel":"b","temp":"180°C","strain":0.0196,"stress":377,"dir":"up"},{"panel":"b","temp":"240°C","strain":0.0161,"stress":279,"dir":"right"},{"panel":"b","temp":"240°C","strain":0.0282,"stress":269,"dir":"up"},{"panel":"b","temp":"300°C","strain":0.0123,"stress":175,"dir":"down"},{"panel":"b","temp":"300°C","strain":0.0065,"stress":145,"dir":"up"},{"panel":"b","temp":"360°C","strain":0.0134,"stress":79,"dir":"down"},{"panel":"b","temp":"360°C","strain":0.0142,"stress":45,"dir":"up"}
]
},
"resolve": {"scale": {"x": "independent", "y": "independent", "strokeDash": "independent"}, "legend": {"strokeDash": "independent"}},
"hconcat": [
{
 "width": 391, "height": 389,
 "title": {"text": "(a)", "orient": "bottom", "font": "Liberation Serif", "fontSize": 22, "fontWeight": "normal", "color": "#000", "offset": 6},
 "layer": [
  {"data": {"name": "curves"}, "transform": [{"filter": "datum.panel === 'a' && datum.rate === '0.1/s'"}],
   "mark": {"type": "line", "strokeWidth": 1.5},
   "encoding": {
    "x": {"field": "strain", "type": "quantitative", "scale": {"domain": [0, 0.25], "nice": false}, "axis": {"title": "Engineering Strain [-]", "values": [0, 0.05, 0.1, 0.15, 0.2, 0.25], "format": "~r", "labelPadding": 12, "titlePadding": 4}},
    "y": {"field": "stress", "type": "quantitative", "scale": {"domain": [0, 700], "nice": false}, "axis": {"title": "Engineering Stress [MPa]", "values": [0, 100, 200, 300, 400, 500, 600, 700], "format": "d", "titlePadding": 8}},
    "color": {"field": "temp", "type": "nominal", "scale": {"domain": ["20°C","60°C","120°C","180°C","240°C","300°C","360°C"], "range": ["#111111","#6e1414","#b01e1e","#ff1f1f","#ff5526","#ff9526","#ffe619"]}, "legend": null},
    "strokeDash": {"field": "rate", "type": "nominal", "scale": {"domain": ["110/s", "0.1/s", "0.001/s"], "range": [[0, 12, 2, 40], [5, 2, 1.5, 2], [1, 0]]},
      "legend": {"title": null, "orient": "top-right", "offset": 6, "padding": 0, "symbolType": "stroke", "symbolSize": 625, "symbolStrokeWidth": 2, "clipHeight": 20, "labelFont": "DejaVu Sans", "labelFontSize": 19, "labelColor": "#222", "labelOffset": 2, "rowPadding": 2,
        "encode": {"symbols": {"update": {"stroke": {"signal": "datum.label === '0.001/s' ? '#6e1414' : (datum.label === '110/s' ? '#666666' : '#111111')"}}}}}}
   }},
  {"data": {"name": "curves"}, "transform": [{"filter": "datum.panel === 'a' && datum.rate === '0.001/s'"}],
   "mark": {"type": "line", "strokeWidth": 2},
   "encoding": {"x": {"field": "strain", "type": "quantitative"}, "y": {"field": "stress", "type": "quantitative"}, "color": {"field": "temp", "type": "nominal"}, "strokeDash": {"field": "rate", "type": "nominal"}}},
  {"data": {"name": "curves"}, "transform": [{"filter": "datum.panel === 'a' && datum.rate === '110/s'"}],
   "mark": {"type": "point", "filled": true, "size": 7, "color": "#707070", "opacity": 1},
   "encoding": {"x": {"field": "strain", "type": "quantitative"}, "y": {"field": "stress", "type": "quantitative"}}},
  {"data": {"name": "arrows"}, "transform": [{"filter": "datum.panel === 'a'"}],
   "mark": {"type": "rule", "strokeWidth": 1.3},
   "encoding": {"x": {"field": "strain", "type": "quantitative"}, "y": {"field": "stress", "type": "quantitative"}, "x2": {"field": "strain2"}, "y2": {"field": "stress2"}, "color": {"field": "temp", "type": "nominal"}}},
  {"data": {"name": "heads"}, "transform": [{"filter": "datum.panel === 'a'"}],
   "mark": {"type": "point", "filled": true, "size": 22, "opacity": 1},
   "encoding": {"x": {"field": "strain", "type": "quantitative"}, "y": {"field": "stress", "type": "quantitative"}, "color": {"field": "temp", "type": "nominal"}, "shape": {"field": "dir", "type": "nominal", "scale": {"domain": ["up", "down", "right"], "range": ["triangle-up", "triangle-down", "triangle-right"]}, "legend": null}}},
  {"data": {"name": "labels"}, "transform": [{"filter": "datum.panel === 'a'"}],
   "mark": {"type": "text"},
   "encoding": {"x": {"field": "strain", "type": "quantitative"}, "y": {"field": "stress", "type": "quantitative"}, "text": {"field": "temp"}, "color": {"field": "temp", "type": "nominal"}}}
 ]
},
{
 "width": 391, "height": 389,
 "title": {"text": "(b)", "orient": "bottom", "font": "Liberation Serif", "fontSize": 22, "fontWeight": "normal", "color": "#000", "offset": 6},
 "layer": [
  {"data": {"name": "curves"}, "transform": [{"filter": "datum.panel === 'b' && datum.rate === '0.1/s'"}],
   "mark": {"type": "line", "strokeWidth": 1.5},
   "encoding": {
    "x": {"field": "strain", "type": "quantitative", "scale": {"domain": [0, 0.15], "nice": false}, "axis": {"title": "Plastic Strain [-]", "values": [0, 0.05, 0.1, 0.15], "format": "~r", "labelPadding": 12, "titlePadding": 4}},
    "y": {"field": "stress", "type": "quantitative", "scale": {"domain": [0, 700], "nice": false}, "axis": {"title": "True Stress [MPa]", "values": [0, 100, 200, 300, 400, 500, 600, 700], "format": "d", "titlePadding": 8}},
    "color": {"field": "temp", "type": "nominal", "legend": null},
    "strokeDash": {"field": "rate", "type": "nominal", "scale": {"domain": ["110/s", "0.1/s", "0.001/s"], "range": [[0, 12, 2, 40], [5, 2, 1.5, 2], [1, 0]]},
      "legend": {"title": null, "orient": "bottom-right", "offset": 8, "padding": 0, "symbolType": "stroke", "symbolSize": 625, "symbolStrokeWidth": 2, "clipHeight": 20, "labelFont": "DejaVu Sans", "labelFontSize": 19, "labelColor": "#222", "labelOffset": 2, "rowPadding": 2,
        "encode": {"symbols": {"update": {"stroke": {"signal": "datum.label === '110/s' ? '#666666' : '#111111'"}}}}}}
   }},
  {"data": {"name": "curves"}, "transform": [{"filter": "datum.panel === 'b' && datum.rate === '0.001/s'"}],
   "mark": {"type": "line", "strokeWidth": 2},
   "encoding": {"x": {"field": "strain", "type": "quantitative"}, "y": {"field": "stress", "type": "quantitative"}, "color": {"field": "temp", "type": "nominal"}, "strokeDash": {"field": "rate", "type": "nominal"}}},
  {"data": {"name": "curves"}, "transform": [{"filter": "datum.panel === 'b' && datum.rate === '110/s'"}],
   "mark": {"type": "point", "filled": true, "size": 7, "color": "#707070", "opacity": 1},
   "encoding": {"x": {"field": "strain", "type": "quantitative"}, "y": {"field": "stress", "type": "quantitative"}}},
  {"data": {"name": "arrows"}, "transform": [{"filter": "datum.panel === 'b'"}],
   "mark": {"type": "rule", "strokeWidth": 1.3},
   "encoding": {"x": {"field": "strain", "type": "quantitative"}, "y": {"field": "stress", "type": "quantitative"}, "x2": {"field": "strain2"}, "y2": {"field": "stress2"}, "color": {"field": "temp", "type": "nominal"}}},
  {"data": {"name": "heads"}, "transform": [{"filter": "datum.panel === 'b'"}],
   "mark": {"type": "point", "filled": true, "size": 22, "opacity": 1},
   "encoding": {"x": {"field": "strain", "type": "quantitative"}, "y": {"field": "stress", "type": "quantitative"}, "color": {"field": "temp", "type": "nominal"}, "shape": {"field": "dir", "type": "nominal", "scale": {"domain": ["up", "down", "right"], "range": ["triangle-up", "triangle-down", "triangle-right"]}, "legend": null}}},
  {"data": {"name": "labels"}, "transform": [{"filter": "datum.panel === 'b'"}],
   "mark": {"type": "text"},
   "encoding": {"x": {"field": "strain", "type": "quantitative"}, "y": {"field": "stress", "type": "quantitative"}, "text": {"field": "temp"}, "color": {"field": "temp", "type": "nominal"}}}
 ]
}
]
}
